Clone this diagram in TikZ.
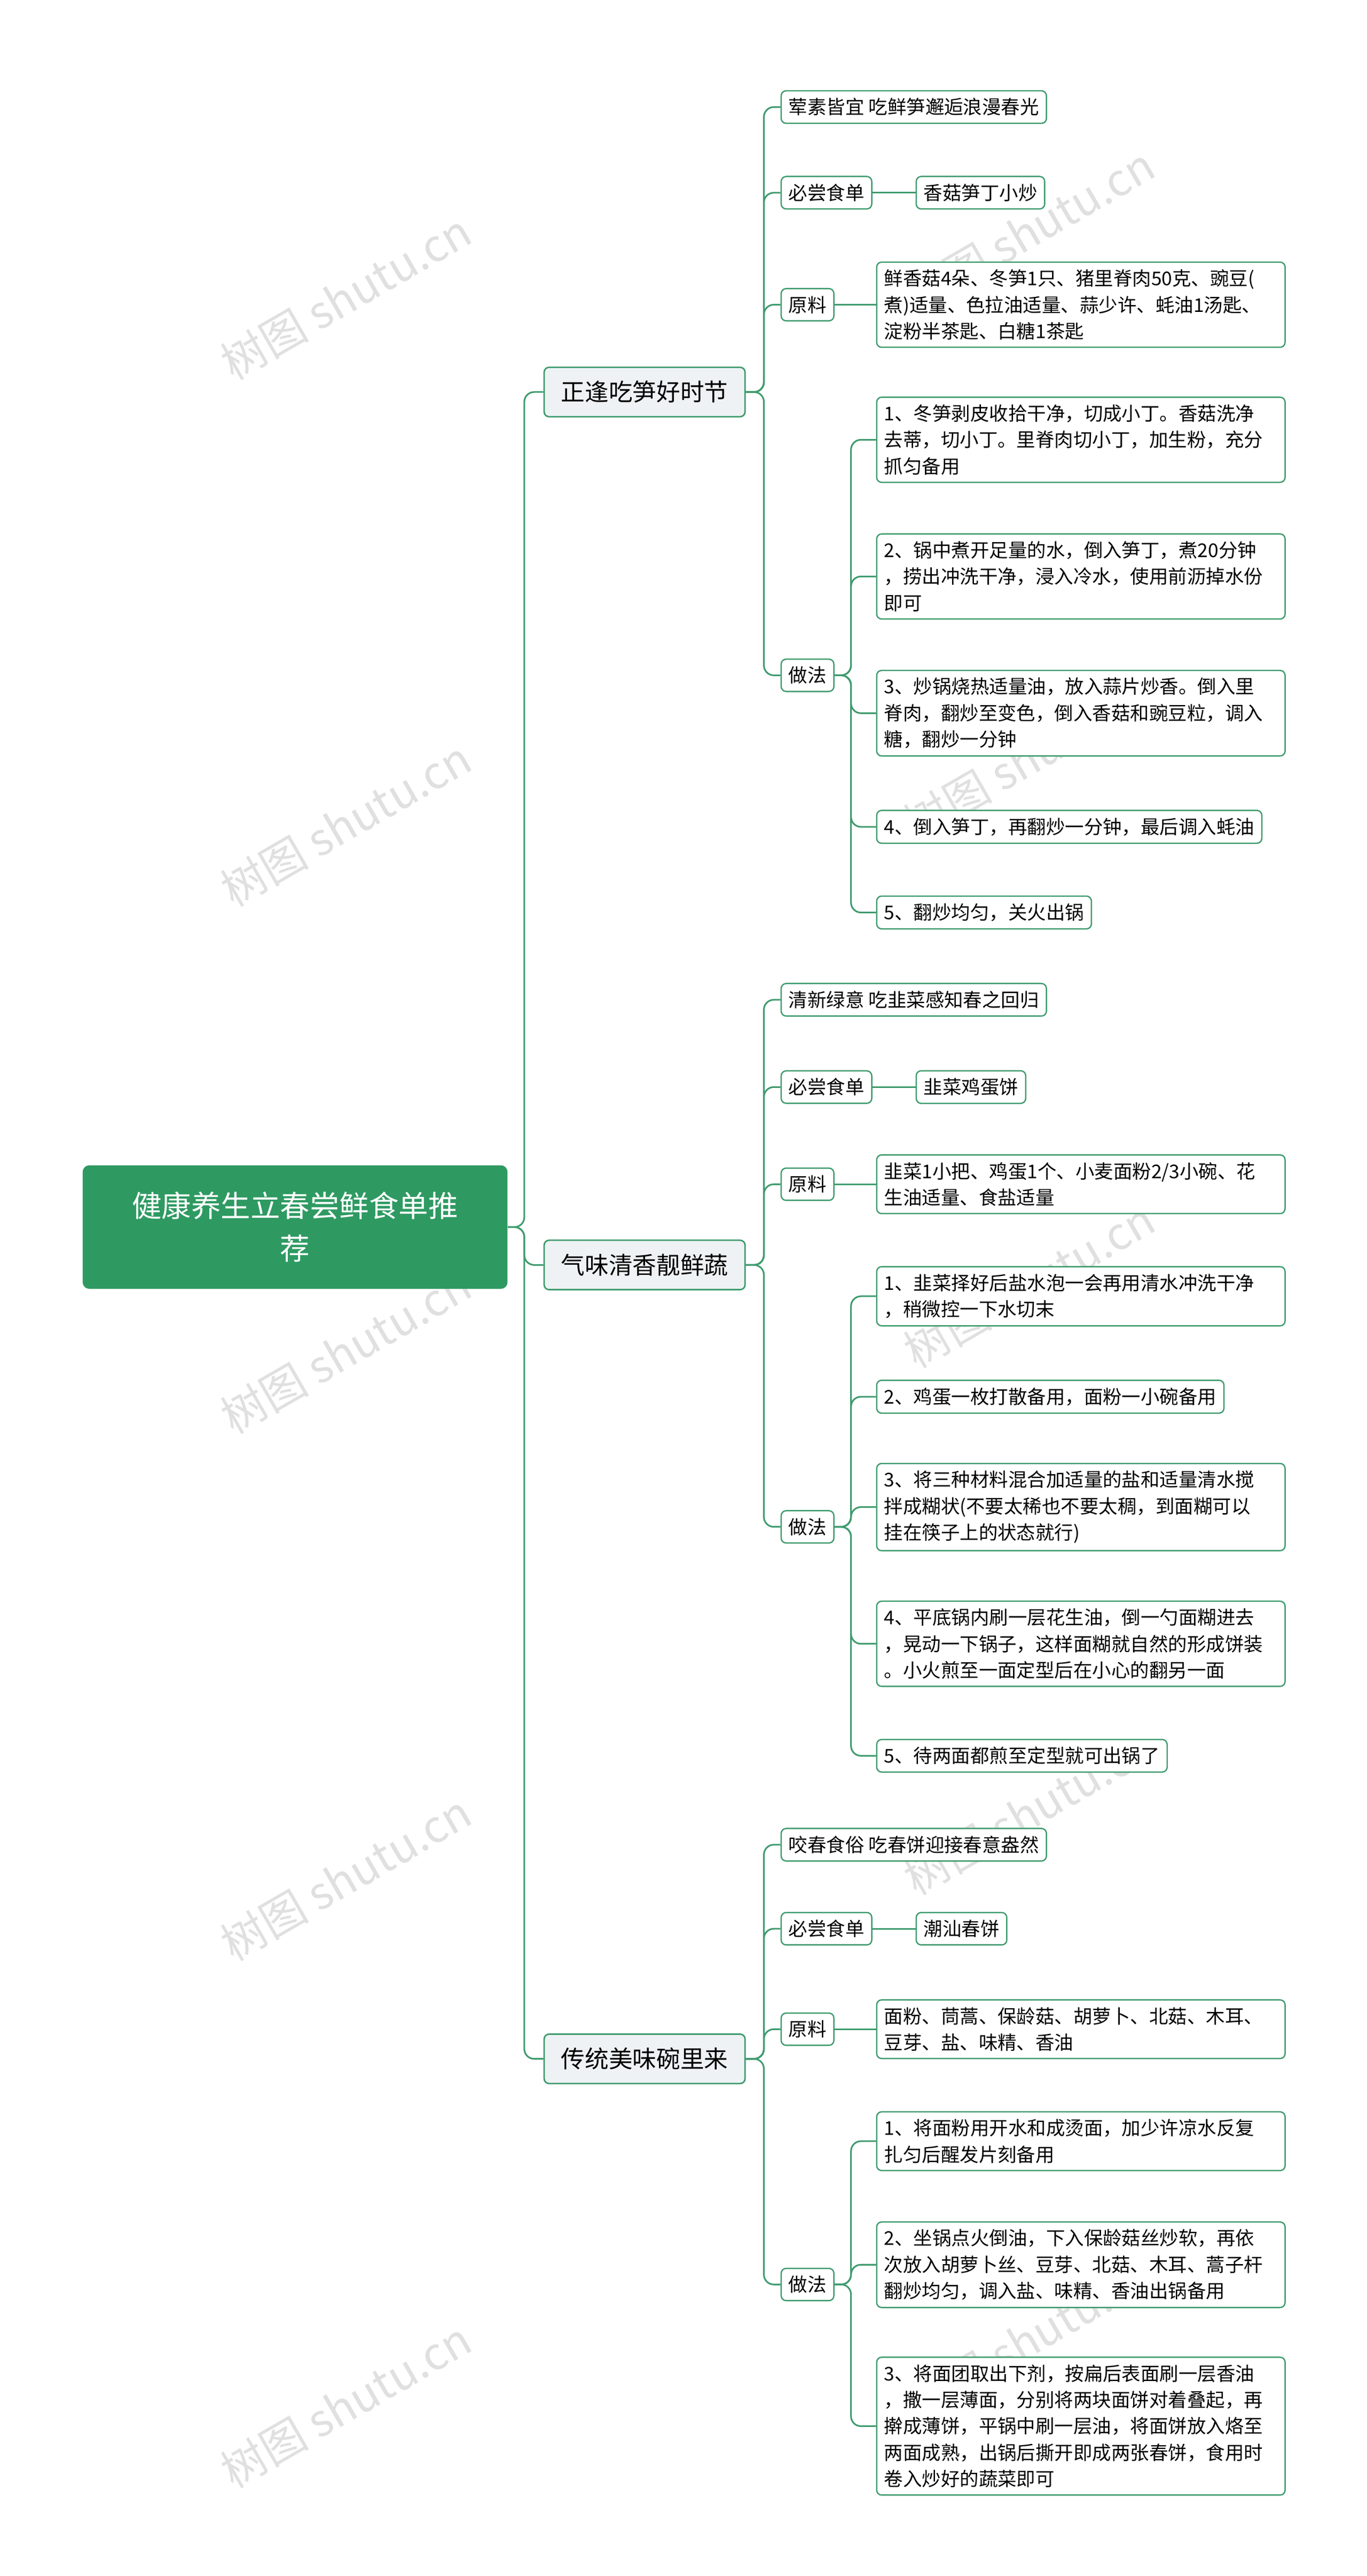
\documentclass[tikz,border=0pt]{standalone}
\usepackage{fontspec}
\setmainfont{Noto Sans CJK SC}
\definecolor{gr}{HTML}{2E9A62}
\definecolor{ln}{HTML}{3F9B6E}
\definecolor{lf}{HTML}{EEF2F4}
\begin{document}
\begin{tikzpicture}[x=1pt,y=-1pt,
 box/.style={draw=ln,line width=0.8pt,rounded corners=3pt,fill=white,anchor=west,inner sep=4.5pt,font=\fontsize{11.5}{16}\selectfont,align=left},
 wide/.style={box,text width=239pt},
 lvone/.style={draw=ln,line width=0.9pt,rounded corners=3pt,fill=lf,anchor=west,minimum width=122pt,minimum height=30pt,font=\fontsize{14.5}{18}\selectfont},
 conn/.style={draw=ln,line width=1pt,rounded corners=6pt},
 wm/.style={text=black!12,rotate=30,font=\fontsize{27}{30}\selectfont}]
\useasboundingbox (0,0) rectangle (830,1564);
\foreach \y in {180,500,820,1140,1460}{\node[wm] at (210,\y) {树图 shutu.cn};\node[wm] at (625,\y-40) {树图 shutu.cn};}
\node[fill=gr,rounded corners=4pt,text=white,minimum width=258pt,minimum height=75pt,align=center,font=\fontsize{18}{26}\selectfont,anchor=west] (root) at (50,745) {健康养生立春尝鲜食单推\\荐};
\node[lvone] (a) at (330,238) {正逢吃笋好时节};
\node[lvone] (b) at (330,768) {气味清香靓鲜蔬};
\node[lvone] (c) at (330,1250) {传统美味碗里来};
\foreach \n in {a,b,c}{\draw[conn] (root.east) -- ++(10,0) |- (\n.west);}
% branch a
\node[box] (a1) at (474,65) {荤素皆宜 吃鲜笋邂逅浪漫春光};
\node[box] (a2) at (474,117) {必尝食单};
\node[box] (a21) at (556,117) {香菇笋丁小炒};
\node[box] (a3) at (474,185) {原料};
\node[wide] (a31) at (532,185) {鲜香菇4朵、冬笋1只、猪里脊肉50克、豌豆(\\煮)适量、色拉油适量、蒜少许、蚝油1汤匙、\\淀粉半茶匙、白糖1茶匙};
\node[box] (a4) at (474,410) {做法};
\node[wide] (a41) at (532,267) {1、冬笋剥皮收拾干净，切成小丁。香菇洗净\\去蒂，切小丁。里脊肉切小丁，加生粉，充分\\抓匀备用};
\node[wide] (a42) at (532,350) {2、锅中煮开足量的水，倒入笋丁，煮20分钟\\，捞出冲洗干净，浸入冷水，使用前沥掉水份\\即可};
\node[wide] (a43) at (532,433) {3、炒锅烧热适量油，放入蒜片炒香。倒入里\\脊肉，翻炒至变色，倒入香菇和豌豆粒，调入\\糖，翻炒一分钟};
\node[box] (a44) at (532,502) {4、倒入笋丁，再翻炒一分钟，最后调入蚝油};
\node[box] (a45) at (532,554) {5、翻炒均匀，关火出锅};
\foreach \n in {a1,a2,a3,a4}{\draw[conn] (a.east) -- ++(11,0) |- (\n.west);}
\draw[conn] (a2.east) -- (a21.west);
\draw[conn] (a3.east) -- (a31.west);
\foreach \n in {a41,a42,a43,a44,a45}{\draw[conn] (a4.east) -- ++(10,0) |- (\n.west);}
% branch b
\node[box] (b1) at (474,607) {清新绿意 吃韭菜感知春之回归};
\node[box] (b2) at (474,660) {必尝食单};
\node[box] (b21) at (556,660) {韭菜鸡蛋饼};
\node[box] (b3) at (474,719) {原料};
\node[wide] (b31) at (532,719) {韭菜1小把、鸡蛋1个、小麦面粉2/3小碗、花\\生油适量、食盐适量};
\node[box] (b4) at (474,927) {做法};
\node[wide] (b41) at (532,787) {1、韭菜择好后盐水泡一会再用清水冲洗干净\\，稍微控一下水切末};
\node[box] (b42) at (532,848) {2、鸡蛋一枚打散备用，面粉一小碗备用};
\node[wide] (b43) at (532,915) {3、将三种材料混合加适量的盐和适量清水搅\\拌成糊状(不要太稀也不要太稠，到面糊可以\\挂在筷子上的状态就行)};
\node[wide] (b44) at (532,998) {4、平底锅内刷一层花生油，倒一勺面糊进去\\，晃动一下锅子，这样面糊就自然的形成饼装\\。小火煎至一面定型后在小心的翻另一面};
\node[box] (b45) at (532,1066) {5、待两面都煎至定型就可出锅了};
\foreach \n in {b1,b2,b3,b4}{\draw[conn] (b.east) -- ++(11,0) |- (\n.west);}
\draw[conn] (b2.east) -- (b21.west);
\draw[conn] (b3.east) -- (b31.west);
\foreach \n in {b41,b42,b43,b44,b45}{\draw[conn] (b4.east) -- ++(10,0) |- (\n.west);}
% branch c
\node[box] (c1) at (474,1120) {咬春食俗 吃春饼迎接春意盎然};
\node[box] (c2) at (474,1171) {必尝食单};
\node[box] (c21) at (556,1171) {潮汕春饼};
\node[box] (c3) at (474,1232) {原料};
\node[wide] (c31) at (532,1232) {面粉、茼蒿、保龄菇、胡萝卜、北菇、木耳、\\豆芽、盐、味精、香油};
\node[box] (c4) at (474,1387) {做法};
\node[wide] (c41) at (532,1300) {1、将面粉用开水和成烫面，加少许凉水反复\\扎匀后醒发片刻备用};
\node[wide] (c42) at (532,1375) {2、坐锅点火倒油，下入保龄菇丝炒软，再依\\次放入胡萝卜丝、豆芽、北菇、木耳、蒿子杆\\翻炒均匀，调入盐、味精、香油出锅备用};
\node[wide] (c43) at (532,1473) {3、将面团取出下剂，按扁后表面刷一层香油\\，撒一层薄面，分别将两块面饼对着叠起，再\\擀成薄饼，平锅中刷一层油，将面饼放入烙至\\两面成熟，出锅后撕开即成两张春饼，食用时\\卷入炒好的蔬菜即可};
\foreach \n in {c1,c2,c3,c4}{\draw[conn] (c.east) -- ++(11,0) |- (\n.west);}
\draw[conn] (c2.east) -- (c21.west);
\draw[conn] (c3.east) -- (c31.west);
\foreach \n in {c41,c42,c43}{\draw[conn] (c4.east) -- ++(10,0) |- (\n.west);}
\end{tikzpicture}
\end{document}
